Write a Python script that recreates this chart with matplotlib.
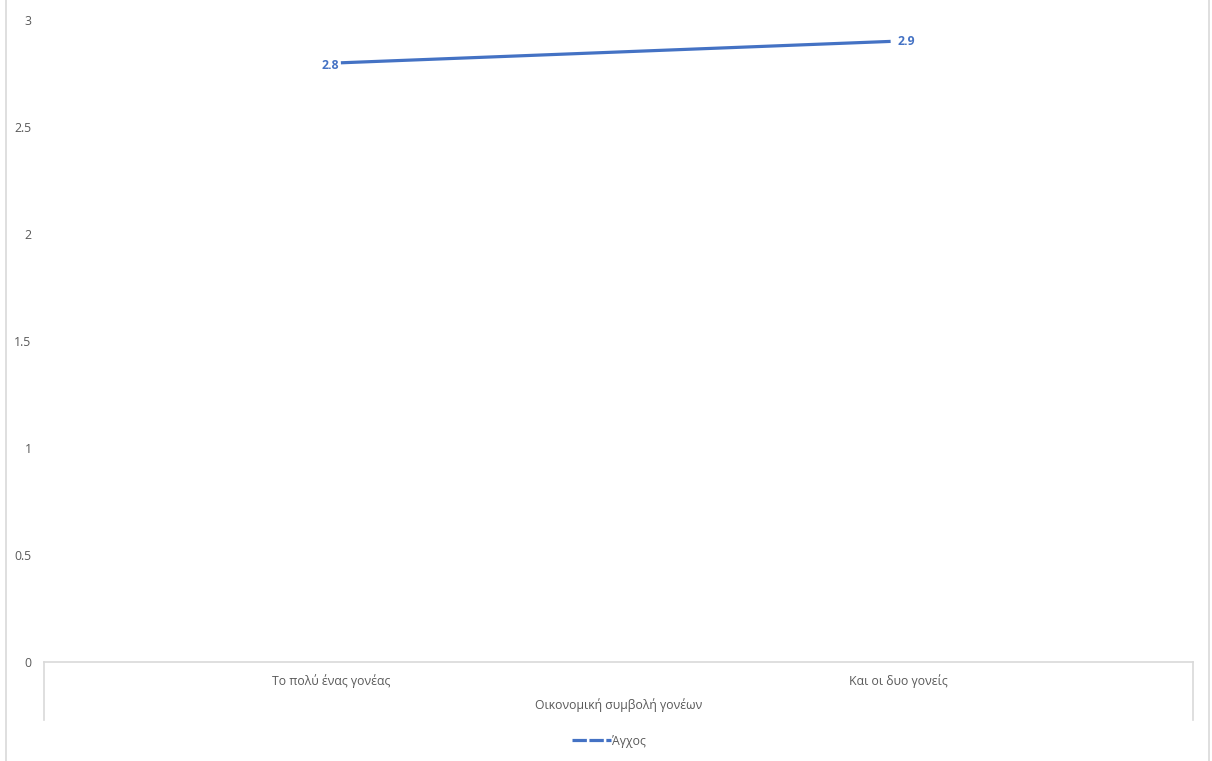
import matplotlib.pyplot as plt
import matplotlib.transforms as mtransforms
from matplotlib.lines import Line2D

categories = ["Το πολύ ένας γονέας", "Και οι δυο γονείς"]
anxiety = [2.8, 2.9]
series_name = "Άγχος"
x_title = "Οικονομική συμβολή γονέων"
y_ticks = [0, 0.5, 1, 1.5, 2, 2.5, 3]

blue = "#4472C4"
grey_text = "#595959"
grey_line = "#D9D9D9"
fs = 8.8

plt.rcParams["font.family"] = ["Open Sans", "DejaVu Sans"]

fig = plt.figure(figsize=(12.12, 7.61), dpi=100)
ax = fig.add_axes([44 / 1212, 1 - 662 / 761, (1193 - 44) / 1212, (662 - 20) / 761])

xs = list(range(len(categories)))
ax.plot(xs, anxiety, color=blue, linewidth=2.3, solid_capstyle="butt")

# data labels: first on the left, second on the right
ax.annotate(f"{anxiety[0]}", (xs[0], anxiety[0]), xytext=(-1.5, -2),
            textcoords="offset points", ha="right", va="center",
            color=blue, fontsize=fs, fontweight="bold")
ax.annotate(f"{anxiety[1]}", (xs[1], anxiety[1]), xytext=(5, 0),
            textcoords="offset points", ha="left", va="center",
            color=blue, fontsize=fs, fontweight="bold")

ax.set_xlim(-0.54, 1.55)
ax.set_ylim(0, 3)
ax.set_yticks(y_ticks)
ax.set_yticklabels([f"{t:g}" for t in y_ticks])
ax.set_xticks(xs)
ax.set_xticklabels(categories)
ax.tick_params(axis="y", length=0, pad=9, labelsize=fs, labelcolor=grey_text)
ax.tick_params(axis="x", length=0, pad=9, labelsize=fs, labelcolor=grey_text)

# Excel centres the category labels in their slots, not on the points
for lbl, dx in zip(ax.get_xticklabels(), (-10, 8)):
    lbl.set_transform(lbl.get_transform() +
                      mtransforms.ScaledTranslation(dx / 100, 0, fig.dpi_scale_trans))

for side in ["top", "right", "left"]:
    ax.spines[side].set_visible(False)
ax.spines["bottom"].set_color(grey_line)
ax.spines["bottom"].set_linewidth(1.2)

# vertical edges of the category axis box
for xe in (0, 1):
    ax.plot([xe, xe], [0, -58 / 642], transform=ax.transAxes, color=grey_line,
            linewidth=1.2, clip_on=False)

ax.set_xlabel(x_title, fontsize=fs, color=grey_text, labelpad=7)

handle = Line2D([0], [0], color=blue, linewidth=2.3, dashes=(4.5, 0.8))
fig.legend([handle], [series_name], loc="center", bbox_to_anchor=(609 / 1212, 1 - 741 / 761),
           frameon=False, fontsize=fs, labelcolor=grey_text, handlelength=3.2,
           handletextpad=0.05)

# chart area border
fig.add_artist(Line2D([6 / 1212, 6 / 1212], [0, 1], color=grey_line, linewidth=1.2))
fig.add_artist(Line2D([1209 / 1212, 1209 / 1212], [0, 1], color=grey_line, linewidth=1.2))

fig.savefig("out.png", dpi=100)
